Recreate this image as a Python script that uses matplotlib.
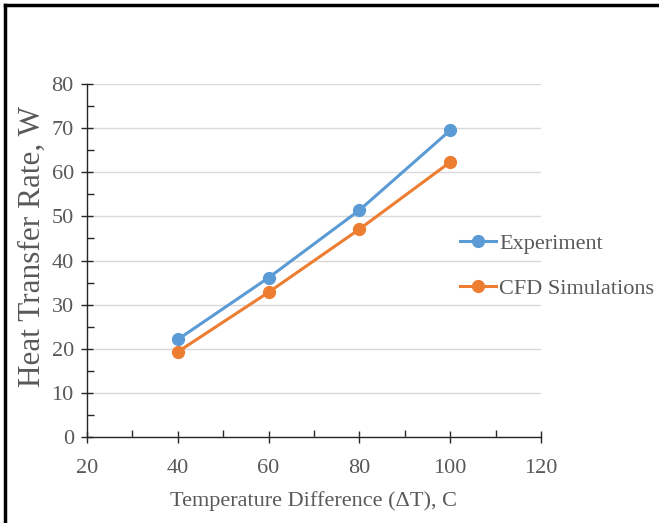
import matplotlib
matplotlib.use("Agg")
import matplotlib.pyplot as plt
from matplotlib.ticker import MultipleLocator
from matplotlib.lines import Line2D

delta_t = [40, 60, 80, 100]
experiment = [22.1, 36.1, 51.4, 69.5]
cfd = [19.3, 32.8, 47.1, 62.3]
series_names = ["Experiment", "CFD Simulations"]

plt.rcParams['font.family'] = ['Liberation Serif', 'DejaVu Serif']

fig = plt.figure(figsize=(6.59, 5.23), dpi=100)
ax = fig.add_axes([87/659, 1-437/523, (541-87)/659, (437-84)/523])

blue = "#5b9bd5"
orange = "#ed7d31"
l1, = ax.plot(delta_t, experiment, color=blue, lw=2.2, marker='o', ms=8.5, label=series_names[0])
l2, = ax.plot(delta_t, cfd, color=orange, lw=2.2, marker='o', ms=8.5, label=series_names[1])

ax.set_xlim(20, 120)
ax.set_ylim(0, 80)
ax.xaxis.set_major_locator(MultipleLocator(20))
ax.xaxis.set_minor_locator(MultipleLocator(10))
ax.yaxis.set_major_locator(MultipleLocator(10))
ax.yaxis.set_minor_locator(MultipleLocator(5))
ax.grid(axis='y', which='major', color='#d9d9d9', lw=1.0)
ax.set_axisbelow(True)
for s in ['top', 'right']:
    ax.spines[s].set_visible(False)
for s in ['left', 'bottom']:
    ax.spines[s].set_color('#262626')
    ax.spines[s].set_linewidth(1.0)
ax.tick_params(which='major', direction='inout', length=9, width=1.0, color='#262626',
               labelsize=16, labelcolor='#595959')
ax.tick_params(axis='x', which='major', pad=11)
ax.tick_params(axis='y', which='major', pad=5)
ax.tick_params(which='minor', direction='in', length=5, width=1.0, color='#262626')
ax.set_xlabel("Temperature Difference (ΔT), C", fontsize=16, color='#595959', labelpad=10)
ax.set_ylabel("Heat Transfer Rate, W", fontsize=22.5, color='#595959')
ax.yaxis.set_label_coords(-0.088, 0.54)

fig.legend(handles=[l1, l2], loc='upper left', bbox_to_anchor=(449/659, 1-222/523),
           frameon=False, fontsize=16, labelcolor='#595959', handlelength=1.6,
           handletextpad=0.15, labelspacing=1.1, borderpad=0)

fig.add_artist(Line2D([5/659, 5/659], [0, 1-5/523], transform=fig.transFigure, color='black', lw=2.5))
fig.add_artist(Line2D([5/659, 1], [1-5/523, 1-5/523], transform=fig.transFigure, color='black', lw=2.5))

fig.savefig("out.png", dpi=100)
